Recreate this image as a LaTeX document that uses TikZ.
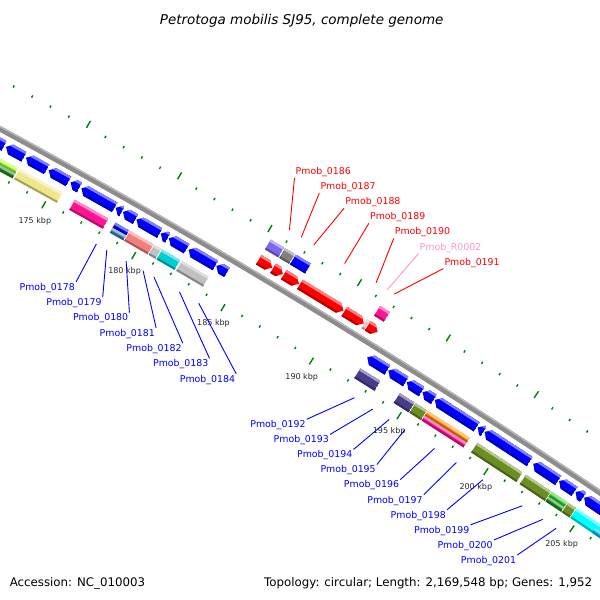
\documentclass[tikz,border=0pt]{standalone}
\usepackage{fontspec}
\setmainfont{DejaVu Sans}
\usepackage{xfp}

% colours of the map
\definecolor{tickgreen}{RGB}{0,128,0}
\definecolor{bbgray}{RGB}{140,140,140}
\definecolor{bblight}{RGB}{185,185,185}
\definecolor{cdsblue}{RGB}{0,0,255}
\definecolor{cdsred}{RGB}{255,0,0}
\definecolor{trnapink}{RGB}{255,182,193}
\definecolor{cogyg}{RGB}{173,255,47}
\definecolor{cogfg}{RGB}{34,139,34}
\definecolor{cogkh}{RGB}{240,230,140}
\definecolor{cogdp}{RGB}{255,20,147}
\definecolor{cogsb}{RGB}{70,130,180}
\definecolor{coglc}{RGB}{240,128,128}
\definecolor{cogsi}{RGB}{192,192,192}
\definecolor{cogdt}{RGB}{0,206,209}
\definecolor{cogds}{RGB}{72,61,139}
\definecolor{cogod}{RGB}{107,142,35}
\definecolor{cogor}{RGB}{255,140,0}
\definecolor{coglg}{RGB}{50,205,50}
\definecolor{cogcy}{RGB}{0,255,255}
\definecolor{cogsky}{RGB}{0,191,255}
\definecolor{cogms}{RGB}{123,104,238}
\definecolor{coggr}{RGB}{128,128,128}
\definecolor{labblue}{RGB}{0,0,255}
\definecolor{labred}{RGB}{255,0,0}
\definecolor{labpink}{RGB}{255,150,200}
\definecolor{kbptext}{RGB}{40,40,40}

% the genome circle (1pt = 1px): centre, backbone radius, degrees and px per kbp
\newcommand\cgcx{-3419}
\newcommand\cgcy{-5842}
\newcommand\cgr{7179.5}
\newcommand\cgd{0.1659336}
\newcommand\cgpx{20.792}

% x,y of the point at #1 kbp, #2 px off the backbone
\newcommand\cgxy[2]{\fpeval{round(\cgcx+(\cgr+(#2))*sind((#1)*\cgd),2)},\fpeval{round(\cgcy+(\cgr+(#2))*cosd((#1)*\cgd),2)}}
\newcommand\cgpt[3]{\edef\cgtmp{\noexpand\coordinate (#1) at (\cgxy{#2}{#3});}\cgtmp}
\newcommand\cgarc[1]{\xdef\cgpath{(\cgxy{169}{#1})}%
  \foreach \k in {170,...,208}{\xdef\cgpath{\cgpath -- (\cgxy{\k}{#1})}}}

% a feature from #1 to #2 kbp, between offsets #3 and #4, colour #5, tip #6 (1 fwd, -1 rev, 0 none)
\newcommand\cgbox[6]{%
  \edef\cgmid{\fpeval{((#1)+(#2))/2}}%
  \edef\cgh{\fpeval{round(((#2)-(#1))*\cgpx/2,3)}}%
  \edef\cga{\fpeval{round(min(5.5,2*\cgh),3)}}%
  \edef\cgm{\fpeval{((#3)+(#4))/2}}%
  \edef\cgsx{\fpeval{round(\cgcx+\cgr*sind(\cgmid*\cgd),3)}}%
  \edef\cgsy{\fpeval{round(\cgcy+\cgr*cosd(\cgmid*\cgd),3)}}%
  \edef\cgrot{\fpeval{round(-\cgmid*\cgd,4)}}%
  \begin{scope}
    \pgftransformshift{\pgfpoint{\cgsx pt}{\cgsy pt}}%
    \pgftransformrotate{\cgrot}%
    \ifnum#6=1
      \def\cgshape{(-\cgh,#3) -- (-\cgh,#4) -- (\cgh-\cga,#4) -- (\cgh,\cgm) -- (\cgh-\cga,#3) -- cycle}%
    \else\ifnum#6=-1
      \def\cgshape{(-\cgh,\cgm) -- (-\cgh+\cga,#4) -- (\cgh,#4) -- (\cgh,#3) -- (-\cgh+\cga,#3) -- cycle}%
    \else
      \def\cgshape{(-\cgh,#3) rectangle (\cgh,#4)}%
    \fi\fi
    \clip \cgshape;
    \fill[#5] (-\cgh,#3) rectangle (\cgh,#4);
    \fill[#5!50!white] (-\cgh,#4-2.5) rectangle (\cgh,#4);
    \fill[#5!70!black] (-\cgh,#3) rectangle (\cgh,#3+2);
  \end{scope}}
\newcommand\revcds[2]{\cgbox{#1}{#2}{-18.5}{-7.5}{cdsblue}{-1}}
\newcommand\fwdcds[3]{\cgbox{#1}{#2}{8.5}{19.5}{#3}{1}}
\newcommand\cogin[3]{\cgbox{#1}{#2}{-37.5}{-26}{#3}{0}}
\newcommand\cogintwo[4]{\cgbox{#1}{#2}{-31.75}{-26}{#3}{0}\cgbox{#1}{#2}{-37.5}{-31.75}{#4}{0}}
\newcommand\cogout[3]{\cgbox{#1}{#2}{26}{37.5}{#3}{0}}

\tikzset{
  backbone/.style={draw=bbgray, line width=5.5pt, line join=round},
  backlight/.style={draw=bblight, line width=1.2pt, line join=round},
  tick/.style={draw=tickgreen, line width=1.4pt},
  kbp/.style={font=\fontsize{8}{9}\selectfont, text=kbptext, inner sep=0pt},
  blab/.style={font=\fontsize{9.4}{11}\selectfont, text=labblue, inner sep=1pt},
  rlab/.style={font=\fontsize{9.4}{11}\selectfont, inner sep=1pt},
  bline/.style={draw=labblue, line width=0.9pt}
}

\begin{document}
\begin{tikzpicture}[x=1pt, y=1pt]
  \useasboundingbox (0,0) rectangle (600,600);
  \fill[white] (0,0) rectangle (600,600);
  \clip (0,0) rectangle (600,600);

  % ticks, 1 kbp apart
  \foreach \k in {171,...,206}{
    \pgfmathtruncatemacro\km{mod(\k,5)}
    \ifnum\km=0 \def\tl{8}\else\def\tl{2.5}\fi
    \cgpt{ta}{\k}{42.5}\cgpt{tb}{\k}{42.5+\tl}
    \draw[tick] (ta) -- (tb);
    \cgpt{ta}{\k}{-41.5}\cgpt{tb}{\k}{-41.5-\tl}
    \draw[tick] (ta) -- (tb);
  }
  \foreach \k in {175,180,...,205}{
    \cgpt{kp\k}{\k}{-64}
    \node[kbp] (k\k) at (kp\k) {\k\ kbp};
  }

  % backbone
  \cgarc{0}\draw[backbone] \cgpath;
  \cgarc{2}\draw[backlight] \cgpath;

  % reverse strand
  \revcds{169.5}{171.95}
  \revcds{172.05}{173.05}
  \revcds{173.15}{174.3}
  \revcds{174.4}{175.5}
  \revcds{175.6}{176.1}
  \revcds{176.2}{178.05}
  \revcds{178.1}{178.45}
  \revcds{178.5}{179.2}
  \revcds{179.25}{180.55}
  \revcds{180.6}{181.0}
  \revcds{181.05}{182.05}
  \revcds{182.15}{183.65}
  \revcds{183.7}{184.3}
  \revcds{192.2}{193.35}
  \revcds{193.4}{194.4}
  \revcds{194.45}{195.3}
  \revcds{195.35}{196.0}
  \revcds{196.05}{198.45}
  \revcds{198.5}{198.85}
  \revcds{198.9}{201.5}
  \revcds{201.7}{203.15}
  \revcds{203.2}{204.1}
  \revcds{204.15}{204.6}
  \revcds{204.65}{207.5}

  % forward strand
  \fwdcds{185.3}{186.05}{cdsred}
  \fwdcds{186.1}{186.65}{cdsred}
  \fwdcds{186.7}{187.55}{cdsred}
  \fwdcds{187.6}{190.05}{cdsred}
  \fwdcds{190.1}{191.2}{cdsred}
  \cgbox{191.23}{191.38}{8.5}{19.5}{trnapink}{0}
  \fwdcds{191.42}{191.98}{cdsred}

  % COG classes
  \cogout{185.3}{186.05}{cogms}
  \cogout{186.1}{186.65}{coggr}
  \cogout{186.7}{187.55}{cdsblue}
  \cogout{191.42}{191.98}{cogdp}
  \cogintwo{169.5}{173.05}{cogyg}{cogfg}
  \cogin{173.15}{175.5}{cogkh}
  \cogin{176.2}{178.05}{cogdp}
  \cogintwo{178.45}{179.2}{cdsblue}{cogsb}
  \cogin{179.25}{180.55}{coglc}
  \cogin{180.6}{181.0}{cogsi}
  \cogin{181.05}{182.05}{cogdt}
  \cogin{182.15}{183.65}{cogsi}
  \cogin{192.2}{193.35}{cogds}
  \cogin{194.45}{195.3}{cogds}
  \cogin{195.35}{196.0}{cogod}
  \cogintwo{196.05}{198.45}{cogor}{cogdp}
  \cogin{198.9}{201.5}{cogod}
  \cogin{201.7}{203.15}{cogod}
  \cogintwo{203.2}{204.1}{coglg}{cogfg}
  \cogin{204.15}{204.6}{cogod}
  \cogin{204.65}{207.5}{cogcy}
  \cgbox{205.9}{207.5}{-37.5}{-31.75}{cogsky}{0}

  % labels
  \foreach \n/\p [count=\i from 0] in {0178/178.15,0179/178.73,0180/179.81,0181/180.76,0182/181.37,0183/182.8,0184/183.88}{
    \cgpt{e\n}{\p}{-54}
    \node[blab, anchor=north east] (l\n) at ({76+26.7*\i},{318-15.3*\i}) {Pmob\_\n};
    \draw[bline] (l\n.north east) -- (e\n);
  }
  \foreach \n/\p [count=\i from 0] in {0192/192.71,0193/193.75,0194/194.69,0195/195.6,0196/197.3,0197/198.56,0198/200.09,0199/202.38,0200/203.57,0201/204.35}{
    \cgpt{e\n}{\p}{-54}
    \node[blab, anchor=north east] (l\n) at ({306.7+23.4*\i},{180.7-15.08*\i}) {Pmob\_\n};
    \draw[bline] (l\n.north east) -- (e\n);
  }
  \foreach \n/\p/\c [count=\i from 0] in {0186/185.84/labred,0187/186.5/labred,0188/187.2/labred,0189/188.92/labred,0190/190.68/labred,R0002/191.31/labpink,0191/191.7/labred}{
    \cgpt{e\n}{\p}{55}
    \node[rlab, text=\c, anchor=south west] (l\n) at ({294.5+24.8*\i},{422-15.1*\i}) {Pmob\_\n};
    \draw[draw=\c, line width=0.9pt] (l\n.south west) -- (e\n);
  }

  % title and footer
  \node[font=\fontsize{13.5}{16}\selectfont\itshape, anchor=base] (title) at (301.7,575.5) {Petrotoga mobilis SJ95, complete genome};
  \node[font=\fontsize{11.8}{14}\selectfont, anchor=base west, inner sep=0pt] (acc) at (9.6,13.5) {Accession: NC\_010003};
  \node[font=\fontsize{11.8}{14}\selectfont, anchor=base east, inner sep=0pt] (topo) at (592.3,13.5) {Topology: circular; Length: 2,169,548 bp; Genes: 1,952};
\end{tikzpicture}
\end{document}
